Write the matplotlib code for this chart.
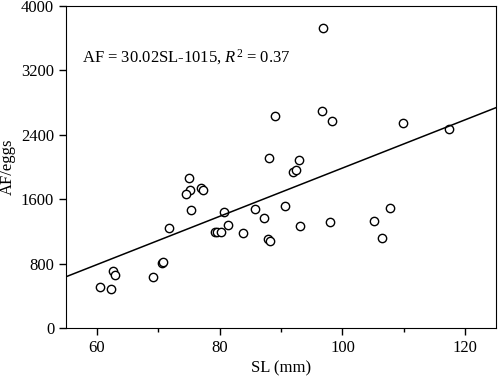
import numpy as np
import matplotlib.pyplot as plt
from matplotlib.ticker import MultipleLocator

plt.rcParams['font.family'] = ['Liberation Serif', 'DejaVu Serif']
plt.rcParams['mathtext.fontset'] = 'custom'
plt.rcParams['mathtext.it'] = 'Liberation Serif:italic'
plt.rcParams['mathtext.rm'] = 'Liberation Serif'

# longitud estándar (mm) y fecundidad absoluta (huevos)
sl = [96.9, 89.0, 96.6, 98.3, 109.8, 117.4,
      88.0, 92.9, 91.9, 92.5, 75.0, 75.2, 74.6, 76.9, 77.3, 75.4,
      80.8, 85.8, 90.7, 87.2, 107.8, 97.9, 105.1, 93.1, 71.8, 81.3,
      79.3, 79.6, 80.2, 83.8, 87.9, 88.2, 106.5, 70.6, 70.8, 62.7,
      62.9, 69.2, 60.6, 62.4]
af = [3724, 2633, 2699, 2571, 2550, 2475,
      2107, 2086, 1937, 1961, 1862, 1713, 1663, 1738, 1717, 1464,
      1435, 1480, 1514, 1361, 1493, 1318, 1327, 1269, 1244, 1281,
      1190, 1194, 1187, 1174, 1103, 1082, 1120, 813, 817, 709,
      655, 631, 515, 490]

slope = 30.02
intercept = -1015
x_line = np.array([55, 125])
y_line = slope * x_line + intercept

fig = plt.figure(figsize=(5, 3.8), dpi=100)
ax = fig.add_axes([0.132, 0.137, 0.86, 0.847])

ax.plot(sl, af, 'o', mfc='white', mec='black', ms=6, mew=1)
ax.plot(x_line, y_line, color='black', lw=1.1)

ax.set_xlim(55, 125)
ax.set_ylim(0, 4000)
ax.xaxis.set_major_locator(MultipleLocator(20))
ax.xaxis.set_minor_locator(MultipleLocator(10))
ax.yaxis.set_major_locator(MultipleLocator(800))
ax.tick_params(which='major', direction='out', length=5, width=1, labelsize=12)
ax.tick_params(which='minor', direction='out', length=3, width=1)

ax.text(57.6, 3370, r'AF = 30.02SL-1015, $R^2$ = 0.37', fontsize=12, va='center')

ax.set_xlabel('SL (mm)', fontsize=12, labelpad=3)
ax.set_ylabel('AF/eggs', fontsize=12)

fig.savefig('out.png', dpi=100)
